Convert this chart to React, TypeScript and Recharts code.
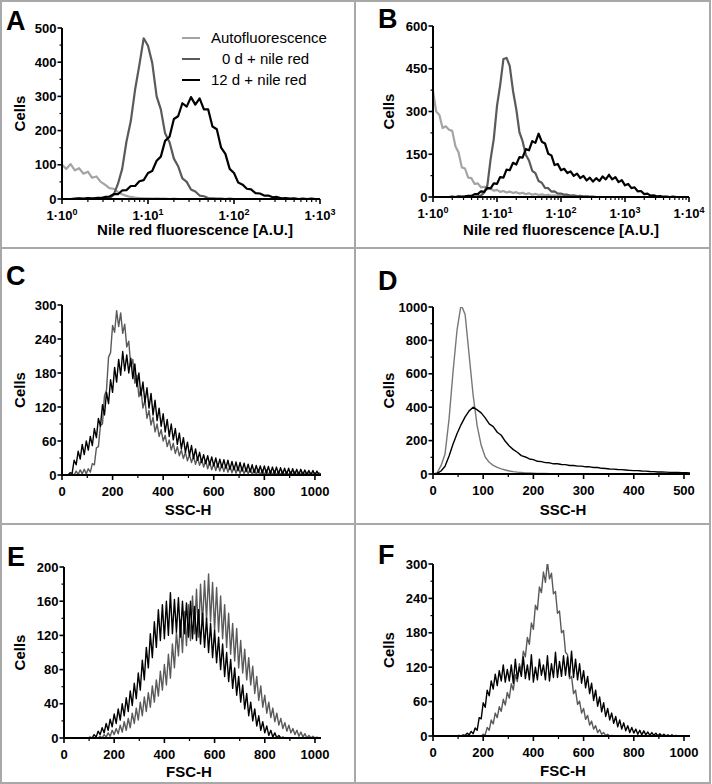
import React from 'react';
import { LineChart, Line, XAxis, YAxis } from 'recharts';

const FONT = '"Liberation Sans", Arial, Helvetica, sans-serif';

// ---------------- data ----------------
// Panel A: Nile red fluorescence (log bins)
const fluorA = [1, 1.12, 1.26, 1.41, 1.58, 1.78, 2, 2.24, 2.51, 2.82,
  3.16, 3.55, 3.98, 4.47, 5.01, 5.62, 6.31, 7.08, 7.94, 8.91,
  10, 11.2, 12.6, 14.1, 15.8, 17.8, 20, 22.4, 25.1, 28.2,
  31.6, 35.5, 39.8, 44.7, 50.1, 56.2, 63.1, 70.8, 79.4, 89.1,
  100, 112, 126, 141, 158, 178, 200, 224, 251, 282,
  316, 355, 398, 447, 501, 562, 631, 708, 794, 891,
  1000];
const autoA = [100, 88, 102, 84, 90, 74, 80, 62, 66, 50,
  42, 32, 30, 20, 14, 9, 6, 4, 3, 2,
  2, 1, 2, 1, 1, 0, 1, 0, 0, 0,
  0, 0, 0, 0, 0, 0, 0, 0, 0, 0,
  0, 0, 0, 0, 0, 0, 0, 0, 0, 0,
  0, 0, 0, 0, 0, 0, 0, 0, 0, 0,
  0];
const day0A = [0, 0, 0, 0, 1, 0, 1, 0, 1, 0,
  1, 2, 12, 44, 88, 168, 228, 320, 392, 470,
  448, 398, 300, 262, 192, 166, 118, 96, 60, 50,
  28, 22, 10, 8, 3, 2, 1, 1, 0, 1,
  0, 0, 0, 0, 0, 0, 0, 0, 0, 0,
  0, 0, 0, 0, 0, 0, 0, 0, 0, 0,
  0];
const day12A = [0, 0, 0, 1, 2, 1, 3, 2, 3, 3,
  6, 7, 14, 14, 25, 26, 38, 38, 52, 55,
  76, 82, 112, 124, 170, 182, 234, 242, 280, 270,
  298, 276, 294, 262, 262, 212, 204, 150, 132, 88,
  76, 48, 42, 30, 28, 17, 16, 10, 10, 5,
  6, 2, 3, 1, 2, 0, 1, 0, 1, 0,
  0];

// Panel B
const fluorB = [1, 1.12, 1.26, 1.41, 1.58, 1.78, 2, 2.24, 2.51, 2.82,
  3.16, 3.55, 3.98, 4.47, 5.01, 5.62, 6.31, 7.08, 7.94, 8.91,
  10, 11.2, 12.6, 14.1, 15.8, 17.8, 20, 22.4, 25.1, 28.2,
  31.6, 35.5, 39.8, 44.7, 50.1, 56.2, 63.1, 70.8, 79.4, 89.1,
  100, 112, 126, 141, 158, 178, 200, 224, 251, 282,
  316, 355, 398, 447, 501, 562, 631, 708, 794, 891,
  1000, 1120, 1260, 1410, 1580, 1780, 2000, 2240, 2510, 2820,
  3160, 3550, 3980, 4470, 5010, 5620, 6310, 7080, 7940, 8910,
  10000];
const autoB = [372, 300, 288, 242, 248, 236, 232, 178, 156, 104,
  100, 68, 66, 46, 48, 34, 36, 27, 30, 22,
  25, 18, 21, 16, 19, 14, 17, 12, 15, 10,
  13, 8, 11, 7, 9, 6, 8, 5, 6, 3,
  4, 2, 3, 1, 2, 1, 1, 0, 1, 0,
  0, 0, 0, 0, 0, 0, 0, 0, 0, 0,
  0, 0, 0, 0, 0, 0, 0, 0, 0, 0,
  0, 0, 0, 0, 0, 0, 0, 0, 0, 0,
  0];
const day0B = [0, 0, 0, 0, 0, 0, 0, 0, 0, 0,
  1, 0, 1, 1, 2, 5, 16, 42, 132, 204,
  320, 392, 484, 488, 460, 372, 308, 228, 196, 148,
  128, 92, 84, 56, 50, 32, 31, 19, 20, 12,
  12, 8, 8, 5, 6, 3, 4, 2, 2, 1,
  1, 0, 0, 0, 0, 0, 0, 0, 0, 0,
  0, 0, 0, 0, 0, 0, 0, 0, 0, 0,
  0, 0, 0, 0, 0, 0, 0, 0, 0, 0,
  0];
const day12B = [0, 0, 0, 0, 0, 0, 1, 0, 2, 1,
  2, 4, 4, 10, 10, 20, 18, 32, 30, 48,
  46, 70, 68, 96, 94, 120, 114, 140, 138, 168,
  164, 196, 190, 222, 194, 188, 152, 146, 112, 116,
  94, 99, 84, 90, 74, 82, 66, 74, 58, 68,
  54, 66, 56, 72, 62, 78, 62, 70, 52, 59,
  41, 46, 31, 34, 20, 21, 10, 12, 5, 6,
  2, 3, 1, 1, 0, 1, 0, 0, 0, 0,
  0];

// Channels for C, E, F (0..1024) and D (0..512)
const channel1024 = [0, 8, 16, 24, 32, 40, 48, 56, 64, 72, 80, 88, 96, 104, 112, 120,
  128, 136, 144, 152, 160, 168, 176, 184, 192, 200, 208, 216, 224, 232, 240, 248,
  256, 264, 272, 280, 288, 296, 304, 312, 320, 328, 336, 344, 352, 360, 368, 376,
  384, 392, 400, 408, 416, 424, 432, 440, 448, 456, 464, 472, 480, 488, 496, 504,
  512, 520, 528, 536, 544, 552, 560, 568, 576, 584, 592, 600, 608, 616, 624, 632,
  640, 648, 656, 664, 672, 680, 688, 696, 704, 712, 720, 728, 736, 744, 752, 760,
  768, 776, 784, 792, 800, 808, 816, 824, 832, 840, 848, 856, 864, 872, 880, 888,
  896, 904, 912, 920, 928, 936, 944, 952, 960, 968, 976, 984, 992, 1000, 1008, 1016,
  1024];
const channel512 = [0, 8, 16, 24, 32, 40, 48, 56, 64, 72,
  80, 88, 96, 104, 112, 120, 128, 136, 144, 152,
  160, 168, 176, 184, 192, 200, 208, 216, 224, 232,
  240, 248, 256, 264, 272, 280, 288, 296, 304, 312,
  320, 328, 336, 344, 352, 360, 368, 376, 384, 392,
  400, 408, 416, 424, 432, 440, 448, 456, 464, 472,
  480, 488, 496, 504, 512];

// Panel C: SSC-H
const day0C = [0, 0, 0, 0, 0, 2, 0, 7, 1, 9, 2, 10, 2, 11, 5, 20,
  18, 48, 50, 88, 90, 140, 150, 208, 216, 264, 252, 290, 262, 286, 250, 266,
  226, 236, 192, 204, 162, 176, 138, 152, 118, 132, 100, 114, 88, 102, 76, 90,
  68, 80, 60, 70, 50, 62, 44, 56, 38, 50, 34, 44, 29, 40, 25, 36,
  22, 33, 19, 31, 17, 28, 14, 26, 11, 23, 9, 21, 8, 20, 7, 19,
  6, 18, 5, 16, 4, 15, 3, 14, 3, 13, 2, 12, 2, 11, 1, 10,
  1, 10, 0, 9, 0, 9, 0, 8, 0, 8, 0, 7, 0, 7, 0, 6,
  0, 6, 0, 6, 0, 5, 0, 5, 0, 5, 0, 4, 0, 4, 0, 4,
  1];
const day12C = [0, 0, 0, 0, 4, 3, 26, 18, 42, 28, 54, 36, 60, 44, 68, 52,
  82, 66, 100, 86, 124, 106, 146, 126, 168, 146, 190, 164, 204, 176, 218, 184,
  212, 180, 206, 170, 196, 156, 180, 140, 164, 128, 154, 118, 144, 106, 132, 96,
  118, 86, 108, 76, 98, 68, 90, 62, 82, 54, 74, 46, 66, 40, 58, 34,
  52, 29, 46, 26, 40, 22, 36, 20, 34, 18, 32, 16, 30, 14, 28, 13,
  27, 12, 26, 10, 24, 9, 23, 8, 22, 7, 21, 6, 19, 5, 18, 4,
  17, 4, 16, 3, 16, 3, 15, 2, 14, 2, 14, 1, 13, 1, 12, 1,
  12, 0, 11, 0, 10, 0, 10, 0, 9, 0, 8, 0, 8, 0, 7, 0,
  2];

// Panel D: SSC-H
const day0D = [0, 6, 50, 120, 330, 615, 865, 1015, 955, 712,
  470, 288, 172, 102, 70, 52, 40, 31, 24, 18,
  14, 11, 9, 7, 6, 5, 4, 3, 3, 2,
  2, 2, 1, 1, 1, 1, 0, 1, 0, 0,
  0, 0, 0, 0, 0, 0, 0, 0, 0, 0,
  0, 0, 0, 0, 0, 0, 0, 0, 0, 0,
  0, 0, 0, 0, 0];
const day12D = [0, 4, 18, 46, 108, 180, 242, 296, 342, 378,
  400, 384, 366, 336, 300, 284, 250, 232, 196, 168,
  146, 130, 110, 102, 90, 86, 76, 74, 68, 67,
  61, 61, 57, 56, 51, 51, 47, 47, 43, 43,
  39, 39, 34, 33, 30, 29, 27, 26, 24, 22,
  20, 20, 18, 17, 15, 14, 12, 12, 11, 10,
  9, 9, 8, 8, 7];

// Panel E: FSC-H
const day0E = [0, 0, 0, 0, 0, 0, 0, 0, 0, 0, 0, 0, 0, 0, 0, 0,
  0, 0, 2, 0, 4, 1, 6, 2, 9, 4, 11, 5, 15, 7, 19, 9,
  23, 12, 29, 17, 35, 21, 42, 26, 48, 31, 53, 36, 61, 42, 68, 49,
  78, 56, 86, 62, 98, 70, 110, 82, 124, 96, 138, 100, 148, 108, 156, 114,
  166, 122, 174, 118, 180, 134, 184, 138, 192, 136, 182, 126, 176, 124, 166, 116,
  156, 106, 146, 98, 134, 90, 128, 82, 114, 76, 104, 68, 94, 62, 84, 52,
  72, 44, 61, 36, 50, 29, 42, 24, 35, 19, 29, 15, 23, 11, 18, 8,
  15, 6, 11, 4, 9, 2, 7, 1, 5, 0, 3, 0, 2, 0, 1, 0,
  0];
const day12E = [0, 0, 0, 0, 0, 0, 0, 0, 0, 0, 0, 0, 0, 1, 0, 4,
  1, 8, 4, 12, 6, 17, 9, 22, 13, 28, 17, 34, 21, 40, 26, 47,
  31, 55, 38, 64, 46, 76, 56, 91, 68, 106, 82, 122, 94, 136, 106, 150,
  114, 156, 116, 160, 120, 170, 122, 162, 124, 164, 118, 160, 122, 158, 118, 160,
  116, 154, 114, 150, 110, 146, 106, 140, 100, 134, 94, 126, 88, 118, 80, 110,
  72, 100, 66, 92, 58, 82, 50, 72, 42, 62, 34, 52, 26, 42, 20, 34,
  14, 26, 9, 19, 6, 14, 3, 9, 1, 6, 0, 3, 0, 1, 0, 0,
  0, 0, 0, 0, 0, 0, 0, 0, 0, 0, 0, 0, 0, 0, 0, 0,
  0];

// Panel F: FSC-H
const day0F = [0, 0, 0, 0, 0, 0, 0, 0, 0, 0, 0, 0, 0, 0, 0, 0,
  0, 0, 0, 0, 0, 0, 0, 0, 0, 3, 2, 15, 10, 28, 21, 40,
  32, 51, 43, 64, 54, 76, 66, 91, 80, 107, 95, 126, 114, 148, 138, 172,
  160, 197, 186, 228, 220, 260, 250, 286, 268, 304, 274, 284, 248, 252, 214, 218,
  180, 184, 146, 142, 100, 104, 74, 80, 55, 61, 40, 48, 29, 36, 19, 26,
  12, 18, 6, 11, 3, 6, 1, 3, 0, 1, 0, 0, 0, 0, 0, 0,
  0, 0, 0, 0, 0, 0, 0, 0, 0, 0, 0, 0, 0, 0, 0, 0,
  0, 0, 0, 0, 0, 0, 0, 0, 0, 0, 0, 0, 0, 0, 0, 0,
  0];
const day12F = [0, 0, 0, 0, 0, 0, 0, 0, 0, 0, 0, 0, 0, 1, 0, 2,
  1, 5, 2, 8, 4, 14, 10, 32, 30, 58, 50, 80, 70, 96, 82, 108,
  88, 114, 96, 124, 94, 116, 96, 124, 92, 134, 100, 120, 104, 138, 100, 124,
  98, 142, 94, 120, 98, 134, 106, 124, 98, 140, 96, 126, 102, 146, 102, 130,
  104, 140, 106, 138, 104, 148, 102, 134, 98, 126, 92, 114, 84, 104, 74, 92,
  62, 80, 52, 68, 42, 58, 34, 48, 28, 40, 22, 34, 16, 28, 12, 23,
  9, 18, 6, 15, 5, 12, 3, 10, 2, 9, 2, 7, 1, 6, 1, 5,
  0, 4, 0, 3, 0, 2, 0, 2, 0, 1, 0, 0, 0, 0, 0, 0,
  0];

// ---------------- ticks ----------------
const logTicks3 = [1, 2, 3, 4, 5, 6, 7, 8, 9, 10, 20, 30, 40, 50, 60, 70, 80, 90,
  100, 200, 300, 400, 500, 600, 700, 800, 900, 1000];
const logMajors3 = [1, 10, 100, 1000];
const logTicks4 = [1, 2, 3, 4, 5, 6, 7, 8, 9, 10, 20, 30, 40, 50, 60, 70, 80, 90,
  100, 200, 300, 400, 500, 600, 700, 800, 900, 1000, 2000, 3000, 4000, 5000, 6000,
  7000, 8000, 9000, 10000];
const logMajors4 = [1, 10, 100, 1000, 10000];
const linTicks1024 = [0, 100, 200, 300, 400, 500, 600, 700, 800, 900, 1000];
const linMajors1024 = [0, 200, 400, 600, 800, 1000];
const linTicks512 = [0, 50, 100, 150, 200, 250, 300, 350, 400, 450, 500];
const linMajors512 = [0, 100, 200, 300, 400, 500];
const yTicksA = [0, 50, 100, 150, 200, 250, 300, 350, 400, 450, 500];
const yMajorsA = [0, 100, 200, 300, 400, 500];
const yTicksB = [0, 75, 150, 225, 300, 375, 450, 525, 600];
const yMajorsB = [0, 150, 300, 450, 600];
const yTicks300 = [0, 30, 60, 90, 120, 150, 180, 210, 240, 270, 300];
const yMajors300 = [0, 60, 120, 180, 240, 300];
const yTicksD = [0, 100, 200, 300, 400, 500, 600, 700, 800, 900, 1000];
const yMajorsD = [0, 200, 400, 600, 800, 1000];
const yTicksE = [0, 20, 40, 60, 80, 100, 120, 140, 160, 180, 200];
const yMajorsE = [0, 40, 80, 120, 160, 200];

const seriesNames: Record<string, string> = {
  auto: 'Autofluorescence',
  d0: '0 d + nile red',
  d12: '12 d + nile red',
};
const seriesColors: Record<string, string> = {
  auto: '#a4a4a4',
  d0: '#5a5a5a',
  d12: '#000000',
};

const zip = (xs: number[], cols: Record<string, number[]>) =>
  xs.map((x, i) => {
    const row: Record<string, number> = { x };
    Object.keys(cols).forEach((k) => { row[k] = cols[k][i]; });
    return row;
  });

const dataA = zip(fluorA, { auto: autoA, d0: day0A, d12: day12A });
const dataB = zip(fluorB, { auto: autoB, d0: day0B, d12: day12B });
const dataC = zip(channel1024, { d0: day0C, d12: day12C });
const dataD = zip(channel512, { d0: day0D, d12: day12D });
const dataE = zip(channel1024, { d0: day0E, d12: day12E });
const dataF = zip(channel1024, { d0: day0F, d12: day12F });

// ---------------- rendering ----------------
const TS = 5;
const TM = 3;
const XH = 40;
const YW = 40;

const makeXTick = (majors: number[], log: boolean) => (props: any) => {
  const { x, y, payload } = props;
  const v = payload.value;
  const major = majors.indexOf(v) >= 0;
  const ay = y - TS - TM;
  return (
    <g>
      <line x1={x} x2={x} y1={ay} y2={ay + (major ? 5 : 3)} stroke="#000" strokeWidth={major ? 1.6 : 1.2} />
      {major ? (
        <text x={x} y={ay + 16} dy="0.35em" textAnchor="middle" fontFamily={FONT} fontSize={13} fontWeight="bold" fill="#000">
          {log ? (
            <>
              1·10<tspan dy={-5} fontSize={9}>{String(Math.round(Math.log10(v)))}</tspan>
            </>
          ) : String(v)}
        </text>
      ) : null}
    </g>
  );
};

const makeYTick = (majors: number[]) => (props: any) => {
  const { x, y, payload } = props;
  const v = payload.value;
  const major = majors.indexOf(v) >= 0;
  const ax = x + TS + TM;
  return (
    <g>
      <line x1={ax} x2={ax - (major ? 4.5 : 2.5)} y1={y} y2={y} stroke="#000" strokeWidth={major ? 1.6 : 1.2} />
      {major ? (
        <text x={ax - 5.5} y={y} dy="0.35em" textAnchor="end" fontFamily={FONT} fontSize={13} fontWeight="bold" fill="#000">
          {String(v)}
        </text>
      ) : null}
    </g>
  );
};

type PanelProps = {
  letter: string;
  left: number; top: number; w: number; h: number;
  x0: number; x1: number; y0: number; y1: number;
  data: Record<string, number>[];
  keys: string[];
  log: boolean;
  xDomain: [number, number];
  xTicks: number[]; xMajors: number[];
  yDomain: [number, number];
  yTicks: number[]; yMajors: number[];
  xTitle: string; titleX: number; titleY: number;
  cellsX: number;
  letterX: number; letterY: number;
  legend?: boolean;
  lineW: number;
  d0Color?: string;
};

function Panel(p: PanelProps) {
  const margin = {
    top: p.y0 - p.top,
    right: p.left + p.w - p.x1,
    bottom: p.top + p.h - p.y1 - XH,
    left: p.x0 - p.left - YW,
  };
  const L = (ax: number) => ax - p.left;
  const T = (ay: number) => ay - p.top;
  const cy = (p.y0 + p.y1) / 2;

  const xLabel = () => (
    <text x={L(p.titleX)} y={T(p.titleY)} dy="0.35em" textAnchor="middle" fontFamily={FONT} fontSize={15} fontWeight="bold" fill="#000">
      {p.xTitle}
    </text>
  );

  const yLabel = () => (
    <g>
      <text
        x={L(p.cellsX)} y={T(cy)} dy="0.35em" textAnchor="middle"
        transform={`rotate(-90 ${L(p.cellsX)} ${T(cy)})`}
        fontFamily={FONT} fontSize={15} fontWeight="bold" fill="#000"
      >
        Cells
      </text>
      <text x={L(p.letterX)} y={T(p.letterY)} fontFamily={FONT} fontSize={27} fontWeight="bold" fill="#000">
        {p.letter}
      </text>
      {p.legend
        ? ['auto', 'd0', 'd12'].map((k, i) => {
            const ry = 38 + i * 21;
            const tx = k === 'd0' ? 222 : 211;
            return (
              <g key={k}>
                <line x1={L(182)} x2={L(200)} y1={T(ry)} y2={T(ry)} stroke={seriesColors[k]} strokeWidth={2} />
                <text x={L(tx)} y={T(ry)} dy="0.35em" fontFamily={FONT} fontSize={15} fill="#000">
                  {seriesNames[k]}
                </text>
              </g>
            );
          })
        : null}
    </g>
  );

  return (
    <div style={{ position: 'absolute', left: p.left, top: p.top, width: p.w, height: p.h }}>
      <LineChart width={p.w} height={p.h} data={p.data} margin={margin}>
        <XAxis
          dataKey="x"
          type="number"
          scale={p.log ? 'log' : 'linear'}
          domain={p.xDomain}
          ticks={p.xTicks}
          interval={0}
          allowDataOverflow
          height={XH}
          tickSize={TS}
          tickMargin={TM}
          tickLine={false}
          axisLine={{ stroke: '#000', strokeWidth: 2 }}
          tick={makeXTick(p.xMajors, p.log)}
          label={xLabel}
        />
        <YAxis
          type="number"
          domain={p.yDomain}
          ticks={p.yTicks}
          interval={0}
          allowDataOverflow
          width={YW}
          tickSize={TS}
          tickMargin={TM}
          tickLine={false}
          axisLine={{ stroke: '#000', strokeWidth: 2 }}
          tick={makeYTick(p.yMajors)}
          label={yLabel}
        />
        {p.keys.map((k) => (
          <Line
            key={k}
            type="linear"
            dataKey={k}
            name={seriesNames[k]}
            stroke={k === 'd0' && p.d0Color ? p.d0Color : seriesColors[k]}
            strokeWidth={p.lineW}
            strokeLinejoin="round"
            dot={false}
            activeDot={false}
            isAnimationActive={false}
          />
        ))}
      </LineChart>
    </div>
  );
}

const BORDER = '#a8a8a8';

export default function App() {
  return (
    <div style={{ position: 'absolute', left: 0, top: 0, width: 712, height: 784, background: '#fff', overflow: 'hidden' }}>
      <Panel
        letter="A" left={0} top={0} w={355} h={248}
        x0={62} x1={320} y0={28} y1={199}
        data={dataA} keys={['auto', 'd0', 'd12']} log
        xDomain={[1, 1000]} xTicks={logTicks3} xMajors={logMajors3}
        yDomain={[0, 500]} yTicks={yTicksA} yMajors={yMajorsA}
        xTitle="Nile red fluorescence [A.U.]" titleX={195} titleY={230}
        cellsX={20} letterX={6} letterY={30} legend lineW={2.2}
      />
      <Panel
        letter="B" left={355} top={0} w={357} h={248}
        x0={433} x1={689} y0={26} y1={197}
        data={dataB} keys={['auto', 'd0', 'd12']} log
        xDomain={[1, 10000]} xTicks={logTicks4} xMajors={logMajors4}
        yDomain={[0, 600]} yTicks={yTicksB} yMajors={yMajorsB}
        xTitle="Nile red fluorescence [A.U.]" titleX={561} titleY={230}
        cellsX={389} letterX={378} letterY={28} lineW={2.2}
      />
      <Panel
        letter="C" left={0} top={248} w={355} h={276}
        x0={62} x1={321} y0={305} y1={475}
        data={dataC} keys={['d0', 'd12']} log={false}
        xDomain={[0, 1024]} xTicks={linTicks1024} xMajors={linMajors1024}
        yDomain={[0, 300]} yTicks={yTicks300} yMajors={yMajors300}
        xTitle="SSC-H" titleX={188} titleY={510}
        cellsX={20} letterX={6} letterY={285} lineW={1.4}
      />
      <Panel
        letter="D" left={355} top={248} w={357} h={276}
        x0={433} x1={690} y0={307} y1={474}
        data={dataD} keys={['d0', 'd12']} log={false}
        xDomain={[0, 512]} xTicks={linTicks512} xMajors={linMajors512}
        yDomain={[0, 1000]} yTicks={yTicksD} yMajors={yMajorsD}
        xTitle="SSC-H" titleX={563} titleY={510}
        cellsX={389} letterX={378} letterY={290} lineW={1.4} d0Color="#777777"
      />
      <Panel
        letter="E" left={0} top={524} w={355} h={260}
        x0={64} x1={321} y0={567} y1={738}
        data={dataE} keys={['d0', 'd12']} log={false}
        xDomain={[0, 1024]} xTicks={linTicks1024} xMajors={linMajors1024}
        yDomain={[0, 200]} yTicks={yTicksE} yMajors={yMajorsE}
        xTitle="FSC-H" titleX={189} titleY={772}
        cellsX={20} letterX={7} letterY={566} lineW={1.4}
      />
      <Panel
        letter="F" left={355} top={524} w={357} h={260}
        x0={433} x1={690} y0={564} y1={736}
        data={dataF} keys={['d0', 'd12']} log={false}
        xDomain={[0, 1024]} xTicks={linTicks1024} xMajors={linMajors1024}
        yDomain={[0, 300]} yTicks={yTicks300} yMajors={yMajors300}
        xTitle="FSC-H" titleX={563} titleY={771}
        cellsX={389} letterX={378} letterY={564} lineW={1.4}
      />
      {/* frame and dividers */}
      <div style={{ position: 'absolute', left: 0, top: 0, width: 711, height: 784, boxSizing: 'border-box', border: `2px solid ${BORDER}`, pointerEvents: 'none' }} />
      <div style={{ position: 'absolute', left: 354, top: 0, width: 2, height: 784, background: BORDER }} />
      <div style={{ position: 'absolute', left: 0, top: 247, width: 711, height: 2, background: BORDER }} />
      <div style={{ position: 'absolute', left: 0, top: 523, width: 711, height: 2, background: BORDER }} />
    </div>
  );
}
